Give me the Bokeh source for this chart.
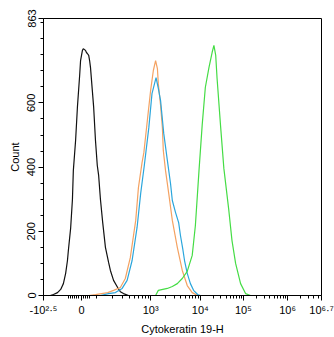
import math
from bokeh.plotting import figure
from bokeh.models import FixedTicker, Label, Range1d
from bokeh.embed import file_html
from bokeh.resources import INLINE

# ---- data (x in display units of the biexponential axis, y in counts) ----
black_x = [0.70, 0.77, 0.86, 0.93, 0.99, 1.04, 1.08, 1.10, 1.15, 1.19, 1.21, 1.26, 1.30,
           1.35, 1.37, 1.41, 1.43, 1.46, 1.48, 1.50, 1.52, 1.55, 1.57, 1.59, 1.63, 1.66,
           1.70, 1.74, 1.77, 1.81, 1.86, 1.92, 1.99, 2.03, 2.10, 2.19, 2.25, 2.32, 2.43]
black_y = [0, 3, 9, 19, 37, 69, 109, 140, 209, 299, 389, 483, 586,
           686, 732, 763, 769, 766, 763, 757, 754, 748, 732, 710, 639, 586,
           483, 405, 374, 299, 227, 150, 103, 78, 47, 25, 12, 6, 0]

orange_x = [1.55, 1.70, 1.97, 2.10, 2.25, 2.36, 2.47, 2.59, 2.65, 2.73, 2.77, 2.84, 2.92,
            2.98, 3.03, 3.07, 3.09, 3.14, 3.18, 3.20, 3.25, 3.32, 3.40, 3.51, 3.62,
            3.73, 3.84, 3.96]
orange_y = [0, 3, 9, 16, 25, 53, 118, 234, 336, 414, 445, 536, 639,
            701, 732, 707, 660, 592, 523, 452, 389, 318, 234, 150, 78,
            31, 9, 0]

blue_x = [1.81, 1.99, 2.14, 2.29, 2.40, 2.51, 2.62, 2.70, 2.78, 2.88, 2.95, 3.04, 3.09,
          3.14, 3.21, 3.29, 3.36, 3.40, 3.47, 3.54, 3.58, 3.63, 3.67, 3.73, 3.80,
          3.87, 3.96, 4.02]
blue_y = [0, 6, 9, 22, 47, 109, 212, 318, 405, 523, 629, 679, 645,
          607, 505, 421, 349, 296, 259, 227, 187, 146, 109, 69, 37,
          16, 3, 0]

green_x = [3.03, 3.09, 3.29, 3.40, 3.51, 3.62, 3.73, 3.84, 3.91, 3.99, 4.06, 4.13, 4.21,
           4.28, 4.32, 4.36, 4.39, 4.47, 4.54, 4.65, 4.72, 4.80, 4.91, 5.02, 5.13]
green_y = [0, 16, 22, 28, 37, 53, 75, 125, 218, 389, 530, 648, 710,
           757, 779, 748, 676, 523, 396, 265, 171, 100, 37, 6, 0]

x_tick_pos = [0.55, 1.39, 2.92, 4.02, 4.97, 5.95, 6.70]
x_tick_labels = ["-10²·⁵", "0", "10³", "10⁴", "10⁵", "10⁶", "10⁶·⁷"]
y_tick_pos = [0, 200, 400, 600, 863]

title_text = "bs-1028R-1 /"
title_gate = "P1"
x_label = "Cytokeratin 19-H"
y_label = "Count"

FONT = "Liberation Sans"

p = figure(width=334, height=337, output_backend="svg", toolbar_location=None,
           x_range=Range1d(0.55, 6.70), y_range=Range1d(0, 863),
           min_border_left=43, min_border_right=13, min_border_top=18, min_border_bottom=42)
p.background_fill_color = "white"
p.border_fill_color = "white"
p.outline_line_color = "black"
p.outline_line_width = 1
p.grid.visible = False

p.line(black_x, black_y, line_color="#111111", line_width=1.2)
p.line(orange_x, orange_y, line_color="#F4A262", line_width=1.2)
p.line(blue_x, blue_y, line_color="#2BA6DC", line_width=1.2)
p.line(green_x, green_y, line_color="#45DC45", line_width=1.2)

# x axis ticks
minor_x = [1.10, 1.15, 1.19, 1.24, 1.28, 1.33, 1.44, 1.48, 1.53, 1.57, 1.72]
minor_x += [1.72 + 1.20 * math.log10(m) for m in range(2, 10)]
decades = [2.92, 4.02, 4.97, 5.95, 6.92]
for i in range(len(decades) - 1):
    for m in range(2, 10):
        v = decades[i] + math.log10(m) * (decades[i + 1] - decades[i])
        if v < 6.69:
            minor_x.append(v)

p.xaxis.ticker = FixedTicker(ticks=x_tick_pos, minor_ticks=minor_x)
p.xaxis.major_label_overrides = {t: l for t, l in zip(x_tick_pos, x_tick_labels)}
p.yaxis.ticker = FixedTicker(ticks=y_tick_pos, minor_ticks=list(range(50, 863, 50)))
p.yaxis.major_label_orientation = "vertical"

for ax in (p.xaxis[0], p.yaxis[0]):
    ax.axis_line_color = "black"
    ax.major_tick_line_color = "black"
    ax.minor_tick_line_color = "black"
    ax.major_tick_in = 0
    ax.major_tick_out = 5
    ax.minor_tick_in = 0
    ax.minor_tick_out = 3
    ax.major_label_text_font = FONT
    ax.major_label_text_font_size = "11px"
    ax.major_label_text_color = "black"
    ax.axis_label_text_font = FONT
    ax.axis_label_text_font_size = "11px"
    ax.axis_label_text_font_style = "normal"
    ax.axis_label_text_color = "black"
    ax.major_label_standoff = 3
    ax.axis_label_standoff = 4

p.xaxis.axis_label = x_label
p.yaxis.axis_label = y_label

p.add_layout(Label(x=160, y=287, x_units="screen", y_units="screen", text=title_text,
                   text_align="right", text_baseline="middle", text_font=FONT,
                   text_font_size="11px", text_color="black"))
p.add_layout(Label(x=163.5, y=287, x_units="screen", y_units="screen", text=title_gate,
                   text_align="left", text_baseline="middle", text_font=FONT,
                   text_font_size="11px", text_color="#45DC45"))

open("out.html", "w").write(file_html(p, INLINE))
